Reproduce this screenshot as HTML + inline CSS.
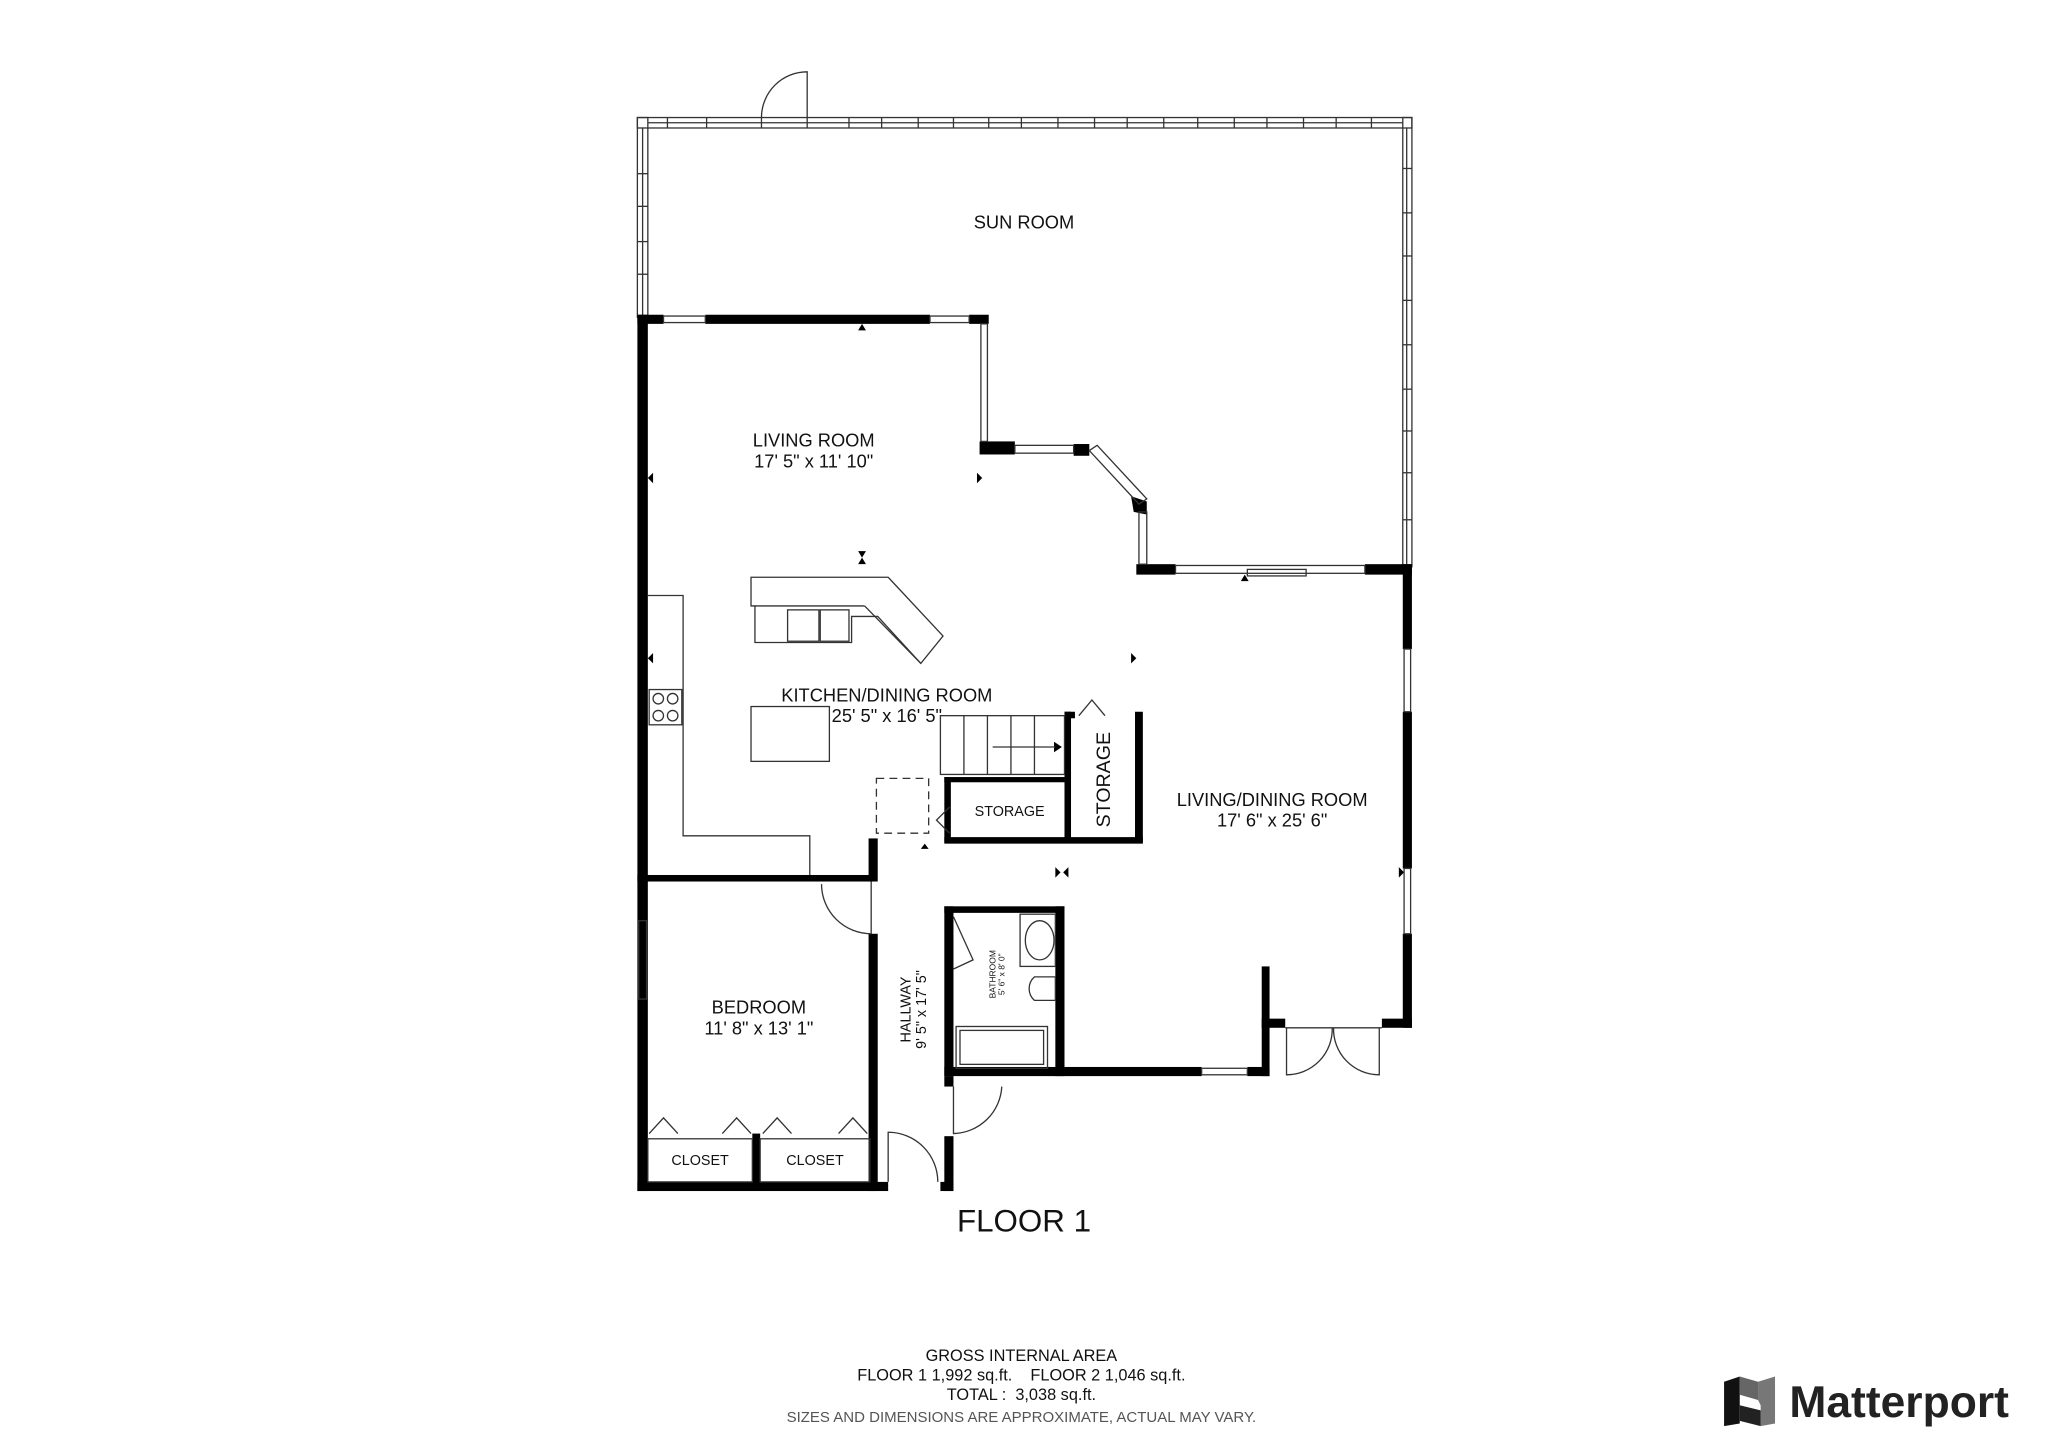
<!DOCTYPE html>
<html><head><meta charset="utf-8"><style>
html,body{margin:0;padding:0;background:#fff;}
svg{display:block}
text{font-family:"Liberation Sans",sans-serif;fill:#111;white-space:pre}
</style></head><body>
<svg width="2048" height="1447" viewBox="0 0 1568 1108" preserveAspectRatio="none" xmlns="http://www.w3.org/2000/svg">
<g fill="none" stroke="#333" stroke-width="1">
<rect x="488" y="90" width="593" height="8"/>
<rect x="488" y="90" width="8" height="153"/>
<rect x="1074" y="90" width="7" height="344"/>
<line x1="496" y1="94" x2="1074" y2="94"/>
<line x1="492" y1="98" x2="492" y2="243"/>
<line x1="1077" y1="98" x2="1077" y2="432"/>
<path d="M618 90 V55 A35 35 0 0 0 583 90"/>
</g>
<g stroke="#333" stroke-width="1">
<line x1="511" y1="90" x2="511" y2="98"/><line x1="541" y1="90" x2="541" y2="98"/>
<line x1="583" y1="90" x2="583" y2="98"/><line x1="618" y1="90" x2="618" y2="98"/>
<line x1="650" y1="90" x2="650" y2="98"/><line x1="675" y1="90" x2="675" y2="98"/>
<line x1="703" y1="90" x2="703" y2="98"/><line x1="730" y1="90" x2="730" y2="98"/>
<line x1="757" y1="90" x2="757" y2="98"/><line x1="782" y1="90" x2="782" y2="98"/>
<line x1="810" y1="90" x2="810" y2="98"/><line x1="838" y1="90" x2="838" y2="98"/>
<line x1="863" y1="90" x2="863" y2="98"/><line x1="891" y1="90" x2="891" y2="98"/>
<line x1="917" y1="90" x2="917" y2="98"/><line x1="945" y1="90" x2="945" y2="98"/>
<line x1="970" y1="90" x2="970" y2="98"/><line x1="998" y1="90" x2="998" y2="98"/>
<line x1="1023" y1="90" x2="1023" y2="98"/><line x1="1050" y1="90" x2="1050" y2="98"/>
<line x1="488" y1="133" x2="496" y2="133"/><line x1="488" y1="158" x2="496" y2="158"/>
<line x1="488" y1="185" x2="496" y2="185"/><line x1="488" y1="210" x2="496" y2="210"/>
<line x1="1074" y1="129" x2="1081" y2="129"/><line x1="1074" y1="163" x2="1081" y2="163"/>
<line x1="1074" y1="196" x2="1081" y2="196"/><line x1="1074" y1="230" x2="1081" y2="230"/>
<line x1="1074" y1="264" x2="1081" y2="264"/><line x1="1074" y1="298" x2="1081" y2="298"/>
<line x1="1074" y1="330" x2="1081" y2="330"/><line x1="1074" y1="362" x2="1081" y2="362"/>
<line x1="1074" y1="398" x2="1081" y2="398"/>
</g>
<g fill="#000">
<rect x="488" y="241" width="20" height="7"/>
<rect x="540" y="241" width="172" height="7"/>
<rect x="742" y="241" width="15" height="7"/>
<rect x="488" y="241" width="8" height="671"/>
<rect x="750" y="338" width="27" height="10"/>
<rect x="822" y="340" width="12" height="9"/>
<polygon points="866,380 878,384 878,394 868,392"/>
<rect x="870" y="432" width="30" height="8"/>
<rect x="1045" y="432" width="36" height="8"/>
<rect x="1074" y="432" width="7" height="65"/>
<rect x="1074" y="545" width="7" height="120"/>
<rect x="1074" y="715" width="7" height="72"/>
<rect x="1058" y="780" width="23" height="7"/>
<rect x="966" y="740" width="6" height="84"/>
<rect x="966" y="780" width="18" height="7"/>
<rect x="723" y="817" width="197" height="7"/>
<rect x="955" y="817" width="17" height="7"/>
<rect x="723" y="694" width="92" height="5"/>
<rect x="723" y="694" width="7" height="130"/>
<rect x="808" y="694" width="7" height="130"/>
<rect x="723" y="870" width="7" height="42"/>
<rect x="723" y="824" width="7" height="8"/>
<rect x="488" y="905" width="192" height="7"/>
<rect x="720" y="905" width="10" height="7"/>
<rect x="488" y="670" width="180" height="5"/>
<rect x="665" y="642" width="7" height="33"/>
<rect x="665" y="715" width="7" height="197"/>
<rect x="576" y="868" width="6" height="40"/>
<rect x="723" y="595" width="5" height="50"/>
<rect x="723" y="641" width="152" height="5"/>
<rect x="815" y="545" width="5" height="100"/>
<rect x="869" y="545" width="6" height="100"/>
<rect x="815" y="545" width="8" height="5"/>
<rect x="723" y="595" width="95" height="4"/>
<polygon points="807,568 813,572 807,576"/>
<polygon points="657,253 660,248 663,253"/>
<polygon points="657,422 660,427 663,422"/>
<polygon points="657,432 660,427 663,432"/>
<polygon points="748,362 752,366 748,370"/>
<polygon points="866,500 870,504 866,508"/>
<polygon points="500,362 496,366 500,370"/>
<polygon points="500,500 496,504 500,508"/>
<polygon points="705,650 708,646 711,650"/>
<polygon points="808,664 812,668 808,672"/>
<polygon points="818,664 814,668 818,672"/>
<polygon points="1071,664 1075,668 1071,672"/>
<polygon points="950,445 953,440 956,445"/>
</g>
<g fill="none" stroke="#333" stroke-width="1">
<rect x="508" y="242" width="32" height="5"/>
<rect x="712" y="242" width="30" height="5"/>
<rect x="751" y="248" width="5" height="90"/>
<rect x="777" y="341" width="45" height="6"/>
<polygon points="834,345 840,341 878,382 872,386"/>
<rect x="872" y="392" width="6" height="40"/>
<rect x="900" y="433" width="145" height="6"/>
<rect x="955" y="436" width="45" height="5"/>
<rect x="1075" y="497" width="5" height="48"/>
<rect x="1075" y="665" width="5" height="50"/>
<rect x="920" y="818" width="35" height="5"/>
<rect x="489" y="705" width="6" height="60"/>
<path d="M985 787 V823 A35 35 0 0 0 1020 787"/>
<path d="M1056 787 V823 A35 35 0 0 1 1021 787"/>
<line x1="984" y1="787" x2="1058" y2="787"/>
<path d="M667 675 V715 A38 38 0 0 1 629 677"/>
<path d="M730 832 V868 A38 38 0 0 0 767 832"/>
<path d="M680 905 V867 A38 38 0 0 1 718 905"/>
<polyline points="496,456 523,456 523,640 620,640 620,670"/>
<rect x="497" y="528" width="25" height="27"/>
<circle cx="504" cy="535" r="4"/><circle cx="515" cy="535" r="4"/>
<circle cx="504" cy="548" r="4"/><circle cx="515" cy="548" r="4"/>
<rect x="575" y="541" width="60" height="42"/>
<polygon points="575,442 680,442 722,487 705,508 672,472 652,472 652,492 578,492 578,464 575,464"/>
<line x1="578" y1="464" x2="662" y2="464"/>
<line x1="662" y1="464" x2="705" y2="508"/>
<rect x="603" y="467" width="24" height="24"/><rect x="628" y="467" width="22" height="24"/>
<rect x="720" y="548" width="95" height="45"/>
<line x1="738" y1="548" x2="738" y2="593"/><line x1="756" y1="548" x2="756" y2="593"/>
<line x1="774" y1="548" x2="774" y2="593"/><line x1="792" y1="548" x2="792" y2="593"/>
<line x1="760" y1="572" x2="808" y2="572"/>
<polyline points="826,548 836,536 846,548"/>
<polyline points="727,618 717,628 727,638"/>
<rect x="671" y="596" width="40" height="42" stroke-dasharray="6 4"/>
<rect x="781" y="700" width="27" height="40"/>
<ellipse cx="796" cy="720" rx="11" ry="15"/>
<path d="M808 748 H792 A12 12 0 0 0 792 766 H808 Z"/>
<rect x="732" y="786" width="70" height="32"/>
<rect x="735" y="789" width="64" height="26"/>
<polyline points="730,702 745,735 730,742"/>
<rect x="496" y="872" width="80" height="33"/>
<rect x="582" y="872" width="84" height="33"/>
<polyline points="497,868 508,856 519,868"/><polyline points="553,868 564,856 575,868"/>
<polyline points="584,868 595,856 606,868"/><polyline points="642,868 653,856 664,868"/>
</g>
<g font-size="14" text-anchor="middle">
<text x="784" y="175">SUN ROOM</text>
<text x="623" y="342">LIVING ROOM</text>
<text x="623" y="358">17' 5" x 11' 10"</text>
<text x="679" y="537">KITCHEN/DINING ROOM</text>
<text x="679" y="553">25' 5" x 16' 5"</text>
<text x="974" y="617">LIVING/DINING ROOM</text>
<text x="974" y="633">17' 6" x 25' 6"</text>
<text x="581" y="776">BEDROOM</text>
<text x="581" y="792">11' 8" x 13' 1"</text>
<text x="773" y="625" font-size="11">STORAGE</text>
<text x="536" y="892" font-size="11">CLOSET</text>
<text x="624" y="892" font-size="11">CLOSET</text>
<text transform="translate(850,597) rotate(-90)" font-size="15">STORAGE</text>
<text transform="translate(697,773) rotate(-90)" font-size="11">HALLWAY</text>
<text transform="translate(709,773) rotate(-90)" font-size="11">9' 5" x 17' 5"</text>
<text transform="translate(762,746) rotate(-90)" font-size="6.5">BATHROOM</text>
<text transform="translate(769,746) rotate(-90)" font-size="6.5">5' 6" x 8' 0"</text>
<text x="784" y="943" font-size="24">FLOOR 1</text>
<text x="782" y="1042" font-size="12.5">GROSS INTERNAL AREA</text>
<text x="782" y="1057" font-size="12.5">FLOOR 1 1,992 sq.ft.    FLOOR 2 1,046 sq.ft.</text>
<text x="782" y="1072" font-size="12.5">TOTAL :  3,038 sq.ft.</text>
<text x="782" y="1089" font-size="11.5" style="fill:#555">SIZES AND DIMENSIONS ARE APPROXIMATE, ACTUAL MAY VARY.</text>
</g>
<g>
<polygon points="1320,1058 1332,1054 1332,1090 1320,1092" fill="#111"/>
<polygon points="1332,1054 1346,1058 1346,1072 1332,1068" fill="#666"/>
<polygon points="1346,1058 1359,1054 1359,1090 1348,1092 1348,1076 1346,1072" fill="#777"/>
<polygon points="1332,1076 1348,1080 1348,1092 1332,1088" fill="#222"/>
<text x="1370" y="1085" font-size="34" font-weight="bold" style="fill:#222">Matterport</text>
</g>
</svg>
</body></html>
